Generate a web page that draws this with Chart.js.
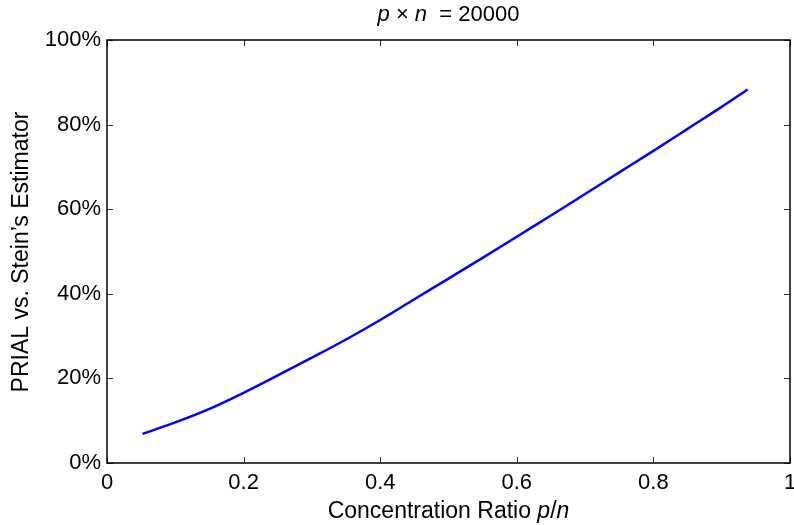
<!DOCTYPE html>
<html>
<head>
<meta charset="utf-8">
<script src="https://cdn.jsdelivr.net/npm/chart.js@4/dist/chart.umd.min.js"></script>
<style>
html,body{margin:0;padding:0;background:#fff;}
canvas{display:block;}
</style>
</head>
<body>
<canvas id="c" width="794" height="525"></canvas>
<script>
const ratios = [0.052, 0.1, 0.15, 0.2, 0.25, 0.3, 0.35, 0.4, 0.45, 0.5, 0.55, 0.6, 0.65, 0.7, 0.75, 0.8, 0.85, 0.9, 0.938];
const prial  = [6.9, 9.6, 12.8, 16.6, 20.7, 24.9, 29.2, 33.8, 38.7, 43.6, 48.5, 53.5, 58.5, 63.6, 68.7, 73.8, 79.0, 84.2, 88.3];
const xTicks = [0, 0.2, 0.4, 0.6, 0.8, 1];
const yTicks = [0, 20, 40, 60, 80, 100];

const FONT = '"Liberation Sans", Arial, sans-serif';

function drawMixed(ctx, parts, cx, y) {
  let total = 0;
  parts.forEach(p => { ctx.font = (p.i ? 'italic ' : '') + p.s + 'px ' + FONT; p.w = ctx.measureText(p.t).width; total += p.w; });
  let x = cx - total / 2;
  parts.forEach(p => { ctx.font = (p.i ? 'italic ' : '') + p.s + 'px ' + FONT; ctx.fillText(p.t, x, y); x += p.w; });
}

const decor = {
  id: 'decor',
  afterDraw(chart) {
    const ctx = chart.ctx, a = chart.chartArea;
    const xs = chart.scales.x, ys = chart.scales.y;
    ctx.save();
    ctx.strokeStyle = '#333';
    ctx.lineWidth = 1;
    const tl = 6;
    xTicks.forEach(v => {
      const px = Math.round(xs.getPixelForValue(v)) + 0.5;
      ctx.beginPath();
      ctx.moveTo(px, a.bottom); ctx.lineTo(px, a.bottom - tl);
      ctx.moveTo(px, a.top); ctx.lineTo(px, a.top + tl);
      ctx.stroke();
    });
    yTicks.forEach(v => {
      const py = Math.round(ys.getPixelForValue(v)) + 0.5;
      ctx.beginPath();
      ctx.moveTo(a.left, py); ctx.lineTo(a.left + tl, py);
      ctx.moveTo(a.right, py); ctx.lineTo(a.right - tl, py);
      ctx.stroke();
    });
    ctx.strokeStyle = '#000';
    ctx.lineWidth = 1.5;
    ctx.strokeRect(a.left, a.top, a.right - a.left, a.bottom - a.top);
    ctx.fillStyle = '#000';
    ctx.textBaseline = 'alphabetic';
    ctx.textAlign = 'left';
    const cx = (a.left + a.right) / 2;
    drawMixed(ctx, [{t:'p', i:true, s:22}, {t:' \u00D7 ', i:false, s:22}, {t:'n', i:true, s:22}, {t:'  = 20000', i:false, s:22}], cx, 21);
    drawMixed(ctx, [{t:'Concentration Ratio ', i:false, s:23}, {t:'p', i:true, s:23}, {t:'/', i:false, s:23}, {t:'n', i:true, s:23}], cx, 518);
    ctx.translate(28, 252);
    ctx.rotate(-Math.PI / 2);
    ctx.textAlign = 'center';
    ctx.font = '23px ' + FONT;
    ctx.fillText("PRIAL vs. Stein\u2019s Estimator", 0, 0);
    ctx.restore();
  }
};

new Chart(document.getElementById('c'), {
  type: 'line',
  data: {
    datasets: [{
      data: ratios.map((r, i) => ({x: r, y: prial[i]})),
      borderColor: '#0000ff',
      borderWidth: 2.5,
      pointRadius: 0,
      tension: 0.4,
      cubicInterpolationMode: 'monotone',
      fill: false
    }]
  },
  options: {
    responsive: false,
    animation: false,
    layout: { padding: { left: 0, right: 4, top: 40, bottom: 0 } },
    plugins: { legend: { display: false }, tooltip: { enabled: false }, title: { display: false } },
    scales: {
      x: {
        type: 'linear', min: 0, max: 1,
        afterBuildTicks(s) { s.ticks = xTicks.map(v => ({value: v})); },
        afterFit(s) { s.height = 62; s.paddingLeft = 0; s.paddingRight = 0; },
        grid: { display: false, drawTicks: false },
        border: { display: false },
        ticks: { color: '#000', font: { family: FONT, size: 22 }, padding: 7, maxRotation: 0,
          callback: v => String(v) }
      },
      y: {
        type: 'linear', min: 0, max: 100,
        afterBuildTicks(s) { s.ticks = yTicks.map(v => ({value: v})); },
        afterFit(s) { s.width = 107; s.paddingTop = 0; s.paddingBottom = 0; },
        grid: { display: false, drawTicks: false },
        border: { display: false },
        ticks: { color: '#000', font: { family: FONT, size: 22 }, padding: 6,
          callback: v => v + '%' }
      }
    }
  },
  plugins: [decor]
});
</script>
</body>
</html>
